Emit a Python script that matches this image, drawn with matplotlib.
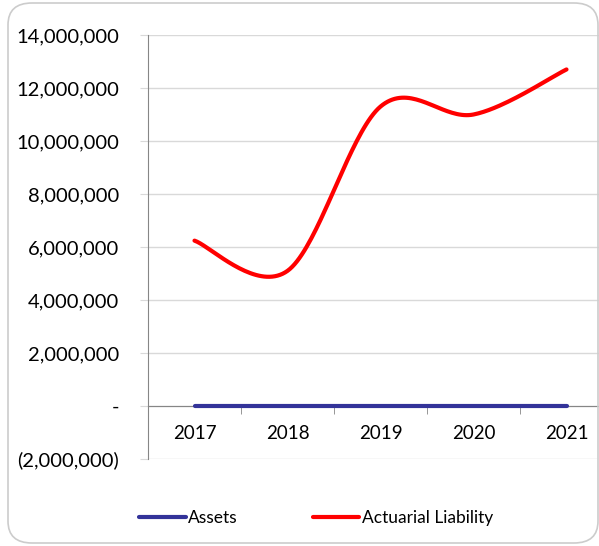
import matplotlib.pyplot as plt
import numpy as np
from matplotlib.patches import FancyBboxPatch
from matplotlib.ticker import FuncFormatter, MultipleLocator
from matplotlib.lines import Line2D

years = ["2017", "2018", "2019", "2020", "2021"]
assets = [0, 0, 0, 0, 0]
liability = [6240000, 5100000, 11300000, 11000000, 12700000]

plt.rcParams['font.family'] = ['Lato', 'DejaVu Sans']


def smooth(xs, ys, n=40):
    # excel style smoothed line: cubic bezier with catmull-rom control points
    xs = np.asarray(xs, float)
    ys = np.asarray(ys, float)
    px = np.concatenate([[xs[0]], xs, [xs[-1]]])
    py = np.concatenate([[ys[0]], ys, [ys[-1]]])
    t = np.linspace(0, 1, n)[:, None]
    out_x, out_y = [], []
    for i in range(1, len(px) - 2):
        p0 = np.array([px[i], py[i]])
        p3 = np.array([px[i + 1], py[i + 1]])
        c1 = p0 + (p3 - np.array([px[i - 1], py[i - 1]])) / 6
        c2 = p3 - (np.array([px[i + 2], py[i + 2]]) - p0) / 6
        b = (1 - t) ** 3 * p0 + 3 * (1 - t) ** 2 * t * c1 + 3 * (1 - t) * t ** 2 * c2 + t ** 3 * p3
        out_x.extend(b[:, 0])
        out_y.extend(b[:, 1])
    return out_x, out_y


fig = plt.figure(figsize=(5.99, 5.46), dpi=100)

# rounded chart border
border = FancyBboxPatch((8 / 599, 3 / 546), 590 / 599, 540 / 546,
                        boxstyle="round,pad=0,rounding_size=0.04",
                        transform=fig.transFigure, fc="none", ec="#cccccc", lw=1.2)
fig.patches.append(border)

ax = fig.add_axes([148 / 599, 1 - 459 / 546, 465 / 599, (459 - 35) / 546])
ax.set_facecolor("none")

x = np.arange(len(years))
ax.plot(*smooth(x, assets), color="#333399", lw=3, solid_capstyle="round", zorder=3)
ax.plot(*smooth(x, liability), color="#ff0000", lw=3, solid_capstyle="round", zorder=4)

ax.set_xlim(-0.5, 4.5)
ax.set_ylim(-2000000, 14000000)
ax.yaxis.set_major_locator(MultipleLocator(2000000))


def fmt(v, pos):
    if abs(v) < 1:
        return "-"
    if v < 0:
        return "({:,.0f})".format(-v)
    return "{:,.0f}".format(v)


ax.yaxis.set_major_formatter(FuncFormatter(fmt))
ax.grid(axis="y", color="#d9d9d9", lw=1)
ax.set_axisbelow(True)

for s in ["top", "right"]:
    ax.spines[s].set_visible(False)
ax.spines["left"].set_color("#868686")
ax.spines["bottom"].set_position(("data", 0))
ax.spines["bottom"].set_color("#868686")

ax.set_xticks(x)
ax.set_xticklabels(years)
ax.set_xticks(np.arange(-0.5, 5, 1), minor=True)
ax.tick_params(axis="x", which="major", length=0, pad=14, labelsize=13.5)
ax.tick_params(axis="x", which="minor", length=6, color="#868686", direction="out")
ax.tick_params(axis="y", length=6, color="#d9d9d9", labelsize=14.5, pad=15)

handles = [Line2D([], [], color="#333399", lw=3, solid_capstyle="round"),
           Line2D([], [], color="#ff0000", lw=3, solid_capstyle="round")]
fig.legend(handles, ["Assets", "Actuarial Liability"], loc="center",
           bbox_to_anchor=(316 / 599, 1 - 518 / 546), ncol=2, frameon=False,
           fontsize=12.5, handlelength=2.7, handletextpad=0.15, columnspacing=4.3)

fig.savefig("out.png", dpi=100)
